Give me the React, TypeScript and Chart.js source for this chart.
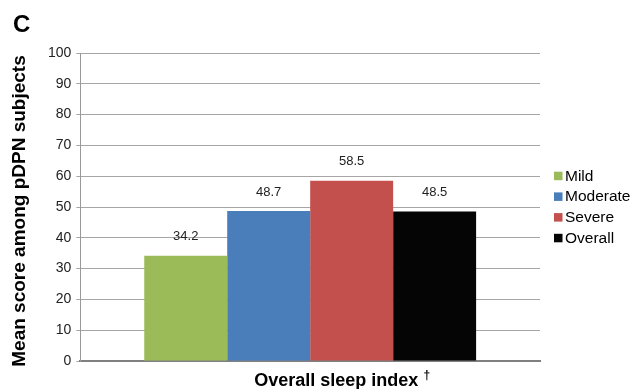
import React, { useEffect, useRef } from "react";
import { Chart, registerables } from "chart.js";

Chart.register(...registerables);

const categories = [""];
const seriesNames = ["Mild", "Moderate", "Severe", "Overall"];
const seriesValues = [34.2, 48.7, 58.5, 48.5];
const seriesColors = ["#9BBB59", "#4A7EBB", "#C4504E", "#050505"];
const yTicks = { min: 0, max: 100, step: 10 };
const panelLetter = "C";
const yTitle = "Mean score among pDPN subjects";
const xTitle = "Overall sleep index";
const xTitleMark = "\u2020";

const FONT = "'Liberation Sans', Arial, sans-serif";

// Writes each bar's value just above it.
const valueLabels = {
  id: "valueLabels",
  afterDatasetsDraw(chart: any) {
    const ctx = chart.ctx;
    ctx.save();
    ctx.font = `13px ${FONT}`;
    ctx.fillStyle = "#222";
    ctx.textAlign = "center";
    ctx.textBaseline = "middle";
    chart.data.datasets.forEach((ds: any, i: number) => {
      const meta = chart.getDatasetMeta(i);
      meta.data.forEach((bar: any, j: number) => {
        ctx.fillText(String(ds.data[j]), bar.x, bar.y - 19);
      });
    });
    ctx.restore();
  },
};

// Panel letter, axis titles and a compact legend to the right of the plot.
const decorations = {
  id: "decorations",
  afterDraw(chart: any) {
    const ctx = chart.ctx;
    const area = chart.chartArea;
    const midY = (area.top + area.bottom) / 2;
    const midX = (area.left + area.right) / 2;
    ctx.save();
    ctx.fillStyle = "#000";

    ctx.font = `bold 24px ${FONT}`;
    ctx.textAlign = "left";
    ctx.textBaseline = "alphabetic";
    ctx.fillText(panelLetter, 13, 32);

    // y axis title, rotated
    ctx.save();
    ctx.translate(20, midY + 4);
    ctx.rotate(-Math.PI / 2);
    ctx.font = `bold 19px ${FONT}`;
    ctx.textAlign = "center";
    ctx.textBaseline = "middle";
    ctx.fillText(yTitle, 0, 0);
    ctx.restore();

    // x axis title with a raised dagger
    ctx.font = `bold 18px ${FONT}`;
    const mainW = ctx.measureText(xTitle + " ").width;
    ctx.font = `bold 12px ${FONT}`;
    const markW = ctx.measureText(xTitleMark).width;
    const startX = midX + 32 - (mainW + markW) / 2;
    ctx.textAlign = "left";
    ctx.textBaseline = "alphabetic";
    ctx.font = `bold 18px ${FONT}`;
    ctx.fillText(xTitle + " ", startX, 386);
    ctx.font = `bold 12px ${FONT}`;
    ctx.fillText(xTitleMark, startX + mainW, 379);

    // legend
    const rowGap = 20.7;
    const box = 8.5;
    const x0 = area.right + 14;
    const yStart = midY - ((seriesNames.length - 1) * rowGap) / 2;
    ctx.font = `15.5px ${FONT}`;
    ctx.textBaseline = "middle";
    seriesNames.forEach((name, i) => {
      const y = yStart + i * rowGap;
      ctx.fillStyle = seriesColors[i];
      ctx.fillRect(x0, y - box / 2, box, box);
      ctx.fillStyle = "#000";
      ctx.fillText(name, x0 + box + 2.5, y + 0.5);
    });
    ctx.restore();
  },
};

export default function App() {
  const ref = useRef<HTMLCanvasElement>(null);

  useEffect(() => {
    if (!ref.current) return;
    const chart = new Chart(ref.current, {
      type: "bar",
      data: {
        labels: categories,
        datasets: seriesNames.map((name, i) => ({
          label: name,
          data: [seriesValues[i]],
          backgroundColor: seriesColors[i],
          borderWidth: 0,
        })),
      },
      options: {
        animation: false,
        responsive: false,
        maintainAspectRatio: false,
        layout: { padding: { left: 43, right: 94, top: 53, bottom: 28 } },
        datasets: {
          bar: { categoryPercentage: 0.722, barPercentage: 1 },
        },
        plugins: {
          legend: { display: false },
          tooltip: { enabled: false },
        },
        scales: {
          x: {
            ticks: { display: false },
            grid: { display: false, drawTicks: false, tickLength: 0 },
            border: { display: true, color: "#808080", width: 2 },
          },
          y: {
            min: yTicks.min,
            max: yTicks.max,
            ticks: {
              stepSize: yTicks.step,
              color: "#222",
              font: { family: FONT, size: 14 },
              padding: 5,
            },
            grid: { color: "#A6A6A6", tickLength: 4, drawTicks: true },
            border: { display: true, color: "#999999", width: 1 },
          },
        },
      },
      plugins: [valueLabels, decorations],
    });
    return () => chart.destroy();
  }, []);

  return (
    <div style={{ position: "absolute", left: 0, top: 0, width: 634, height: 389, background: "#fff" }}>
      <canvas ref={ref} width={634} height={389} />
    </div>
  );
}
